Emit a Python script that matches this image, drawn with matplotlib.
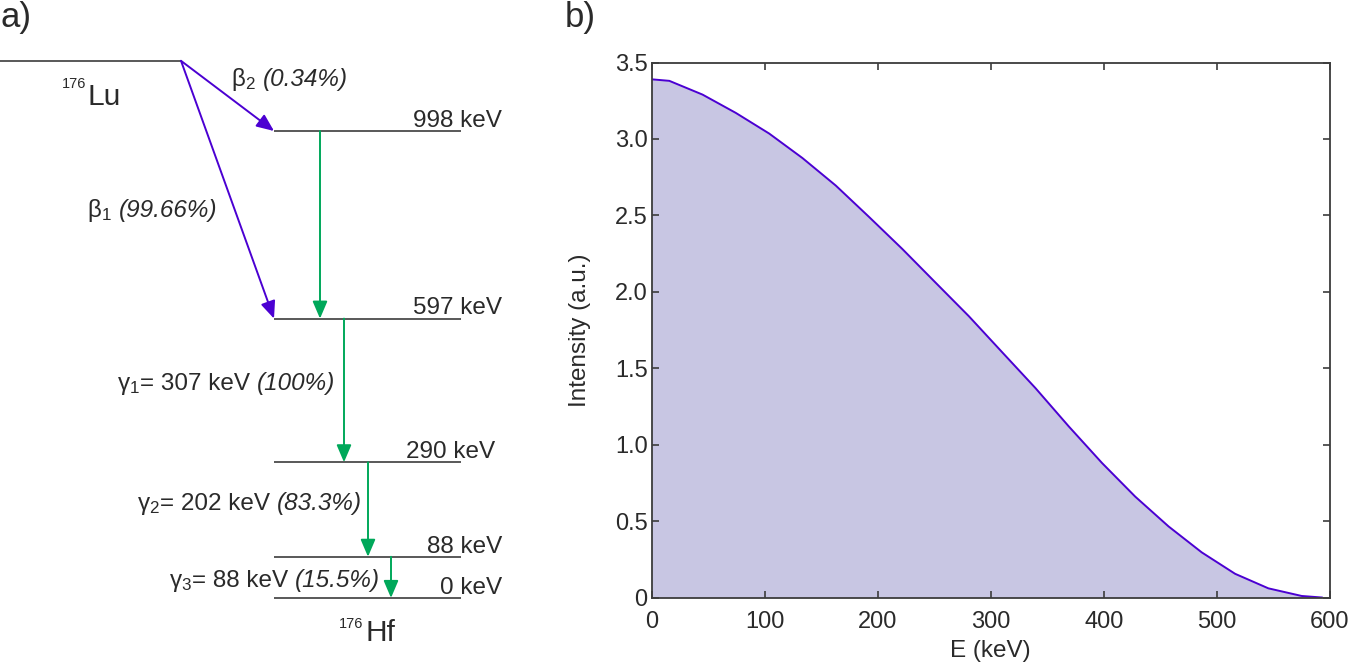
import matplotlib
matplotlib.use("Agg")
import matplotlib.pyplot as plt
import matplotlib.transforms as mtransforms
import numpy as np

plt.rcParams['font.family'] = ['Liberation Sans', 'DejaVu Sans']
plt.rcParams['mathtext.fontset'] = 'custom'
plt.rcParams['mathtext.rm'] = 'Liberation Sans'
plt.rcParams['mathtext.it'] = 'Liberation Sans:italic'
plt.rcParams['mathtext.bf'] = 'Liberation Sans:bold'

# ---- panel a) decay scheme data ----
level_energies = [998, 597, 290, 88, 0]          # keV, 176Hf levels
level_labels = ["998 keV", "597 keV", "290 keV", "88 keV", "0 keV"]
parent_level = 1148                               # schematic height of 176Lu

beta_targets = [998, 597]
beta_symbols = [r"$\mathrm{\beta}_{\mathit{2}}$", r"$\mathrm{\beta}_{\mathit{1}}$"]
beta_branch = ["(0.34%)", "(99.66%)"]

gamma_from = [998, 597, 290, 88]
gamma_to = [597, 290, 88, 0]
gamma_symbols = [r"$\mathrm{\gamma}_{\mathit{1}}$", r"$\mathrm{\gamma}_{\mathit{2}}$",
                 r"$\mathrm{\gamma}_{\mathit{3}}$"]
gamma_energy = ["= 307 keV ", "= 202 keV ", "= 88 keV "]
gamma_branch = ["(100%)", "(83.3%)", "(15.5%)"]

# ---- panel b) beta spectrum ----
energy_kev = [0, 15.6, 45, 74.5, 104, 133.4, 162.9, 192.3, 221.8, 251.2, 280.7,
              310.1, 339.6, 369, 398.5, 427.9, 457.4, 486.8, 516.3, 545.7, 575.2, 593]
intensity = [3.39, 3.38, 3.29, 3.17, 3.035, 2.875, 2.695, 2.49, 2.28, 2.06, 1.84,
             1.605, 1.37, 1.12, 0.88, 0.66, 0.465, 0.295, 0.155, 0.06, 0.01, 0.0]
x_ticks = [0, 100, 200, 300, 400, 500, 600]
y_ticks = [0, 0.5, 1.0, 1.5, 2.0, 2.5, 3.0, 3.5]
y_ticklabels = ["0", "0.5", "1.0", "1.5", "2.0", "2.5", "3.0", "3.5"]

text_col = "#2a2a2a"
line_col = "#3c3c3c"
purple = "#4b00d2"
green = "#00a85a"
fill_col = "#c8c6e3"

W, H = 1349, 666
fig = plt.figure(figsize=(W / 100, H / 100), dpi=100)
renderer = fig.canvas.get_renderer()


def seg_text(ax, x, y, segments, ha="left", size=17.5):
    # place several differently styled pieces of text next to each other
    texts, widths = [], []
    for s, style in segments:
        t = ax.text(x, y, s, va="baseline", ha="left", fontsize=size,
                    color=text_col, style=style)
        texts.append(t)
        widths.append(t.get_window_extent(renderer).width)
    start = -sum(widths) if ha == "right" else 0
    off = start
    for t, w in zip(texts, widths):
        t.set_transform(mtransforms.offset_copy(ax.transData, fig=fig, x=off, y=0, units="dots"))
        off += w


# ---------- a) ----------
axa = fig.add_axes([0, 0, 520 / W, 1])
axa.set_xlim(0, 520)
# energy axis: 0 keV at 598 px from top, 998 keV at 131 px
axa.set_ylim(-145.5, 1278)
axa.axis("off")

axa.hlines(parent_level, 0, 181, color=line_col, lw=1.2)
axa.hlines(level_energies, 274, 461, color=line_col, lw=1.2)
label_right = [502, 502, 495, 502, 502]
for e, lab, xr in zip(level_energies, level_labels, label_right):
    axa.annotate(lab, (xr, e), xytext=(0, 3), textcoords="offset points",
                 ha="right", va="baseline", fontsize=17.5, color=text_col)

for tgt in beta_targets:
    axa.annotate("", xy=(274, tgt), xytext=(181, parent_level),
                 arrowprops=dict(arrowstyle="-|>,head_length=0.75,head_width=0.32",
                                 color=purple, lw=1.4, shrinkA=0, shrinkB=0,
                                 mutation_scale=14))

gamma_x = [320, 344, 368, 391]
for gx, e0, e1 in zip(gamma_x, gamma_from, gamma_to):
    axa.annotate("", xy=(gx, e1), xytext=(gx, e0),
                 arrowprops=dict(arrowstyle="-|>,head_length=0.75,head_width=0.32",
                                 color=green, lw=1.4, shrinkA=0, shrinkB=0,
                                 mutation_scale=14))

beta_text_pos = [(231, 1094), (87, 815)]
for sym, br, (tx, ty) in zip(beta_symbols, beta_branch, beta_text_pos):
    seg_text(axa, tx, ty, [(sym, "normal"), (" ", "normal"), (br, "italic")])

gamma_text_pos = [(335, 444), (362, 188), (380, 24)]
for sym, en, br, (tx, ty) in zip(gamma_symbols, gamma_energy, gamma_branch, gamma_text_pos):
    seg_text(axa, tx, ty, [(sym, "normal"), (en, "normal"), (br, "italic")], ha="right")

axa.text(62, 1089, "176", ha="left", va="baseline", fontsize=10.5, color=text_col)
axa.text(87, 1053, "Lu", ha="left", va="baseline", fontsize=21.5, color=text_col)
axa.text(339, -64, "176", ha="left", va="baseline", fontsize=10.5, color=text_col)
axa.text(365, -93, "Hf", ha="left", va="baseline", fontsize=21.5, color=text_col)

fig.text(0 / W, 1 - 27 / H, "a)", ha="left", va="baseline", fontsize=25, color=text_col)
fig.text(565 / W, 1 - 27 / H, "b)", ha="left", va="baseline", fontsize=25, color=text_col)

# ---------- b) ----------
axb = fig.add_axes([651.7 / W, 68.5 / H, 678 / W, 535 / H])
axb.fill_between(energy_kev, intensity, 0, color=fill_col, lw=0)
axb.plot(energy_kev, intensity, color=purple, lw=1.4)
axb.set_xlim(0, 600)
axb.set_ylim(0, 3.5)
axb.set_xticks(x_ticks)
axb.set_yticks(y_ticks)
axb.set_yticklabels(y_ticklabels)
axb.tick_params(direction="in", top=True, right=True, length=5, width=1.2,
                color=line_col, labelsize=17, labelcolor=text_col)
axb.tick_params(axis="x", pad=9.5)
axb.tick_params(axis="y", pad=3)
for sp in axb.spines.values():
    sp.set_color(line_col)
    sp.set_linewidth(1.3)
axb.set_xlabel("E (keV)", fontsize=17.5, color=text_col, labelpad=5)
axb.set_ylabel("Intensity (a.u.)", fontsize=17.5, color=text_col, labelpad=17)

fig.savefig("out.png", dpi=100)
